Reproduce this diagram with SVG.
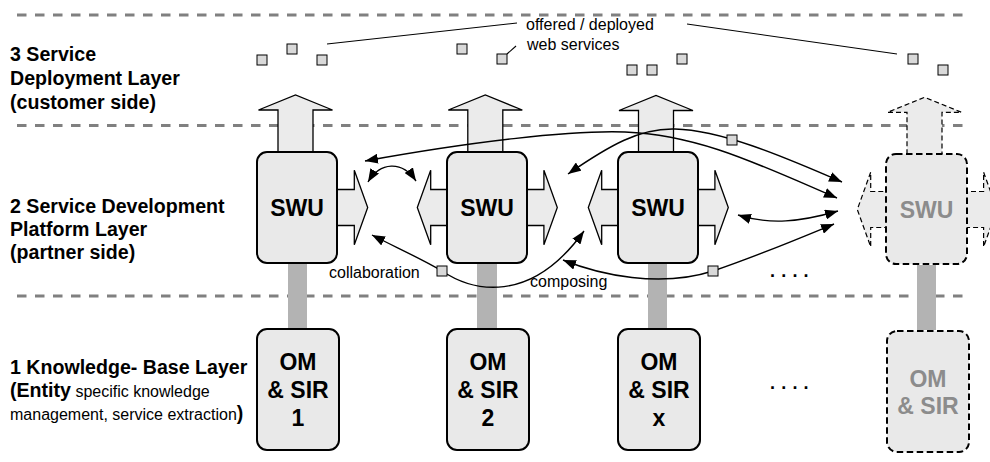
<svg xmlns="http://www.w3.org/2000/svg" width="990" height="462" viewBox="0 0 990 462">
<defs>
<style>
.layer{stroke:#808080;stroke-width:3;stroke-dasharray:9.5 8.5;fill:none}
.box{fill:#e9e9e9;stroke:#000;stroke-width:2}
.boxd{fill:#e9e9e9;stroke:#000;stroke-width:2;stroke-dasharray:6.5 3.5}
.arr{fill:#ebebeb;stroke:#000;stroke-width:1.3}
.arrd{fill:#ebebeb;stroke:#000;stroke-width:1.2;stroke-dasharray:5 3}
.bar{fill:#b3b3b3}
.ws{fill:#d9d9d9;stroke:#000;stroke-width:1}
.conn{fill:none;stroke:#000;stroke-width:1.4}
.lead{fill:none;stroke:#000;stroke-width:1.1}
text{font-family:"Liberation Sans",Arial,Helvetica,sans-serif;fill:#000}
.lbl{font-weight:bold;font-size:19.6px}
.sm{font-size:16px;font-weight:normal}
.big{font-weight:bold;font-size:23px;text-anchor:middle}
.gray{fill:#8c8c8c}
.dots{font-weight:bold;font-size:18px;letter-spacing:6.2px}
</style>
<marker id="ah" viewBox="0 0 13 10" refX="13" refY="5" markerWidth="13" markerHeight="10" markerUnits="userSpaceOnUse" orient="auto-start-reverse"><path d="M0,0 L13,5 L0,10 Z" fill="#000"/></marker>
<path id="upA" d="M-17.5,65 V15 H-37 L0,0 L37,15 H17.5 V65 Z"/>
<path id="rtA" d="M-50,-18 H-13.4 V-37.3 L0,0 L-13.4,37.3 V18 H-50 Z"/>
</defs>
<rect width="990" height="462" fill="#fff"/>

<g id="layers">
<line class="layer" x1="17" y1="15" x2="967" y2="15"/>
<line class="layer" x1="17" y1="125.5" x2="967" y2="125.5"/>
<line class="layer" x1="17" y1="296" x2="967" y2="296"/>
</g>

<g id="layer-labels">
<text class="lbl" x="10" y="61">3 Service</text>
<text class="lbl" x="10" y="85">Deployment Layer</text>
<text class="lbl" x="10" y="109">(customer side)</text>
<text class="lbl" x="10" y="213">2 Service Development</text>
<text class="lbl" x="10" y="236">Platform Layer</text>
<text class="lbl" x="10" y="259">(partner side)</text>
<text class="lbl" x="10" y="374">1 Knowledge- Base Layer</text>
<text class="lbl" x="10" y="397">(Entity<tspan class="sm"> specific knowledge</tspan></text>
<text class="lbl" x="10" y="420"><tspan class="sm">management, service extraction</tspan>)</text>
</g>

<g id="web-services">
<rect class="ws" x="257" y="55" width="10" height="10"/>
<rect class="ws" x="287" y="44" width="10" height="10"/>
<rect class="ws" x="317" y="55" width="10" height="10"/>
<rect class="ws" x="457" y="44" width="10" height="10"/>
<rect class="ws" x="497" y="54" width="10" height="10"/>
<rect class="ws" x="627" y="65" width="10" height="10"/>
<rect class="ws" x="647" y="65" width="10" height="10"/>
<rect class="ws" x="677" y="54" width="10" height="10"/>
<rect class="ws" x="908" y="54" width="10" height="10"/>
<rect class="ws" x="938" y="65" width="10" height="10"/>
<line class="lead" x1="327" y1="44" x2="517" y2="23"/>
<line class="lead" x1="507" y1="54" x2="516" y2="46"/>
<line class="lead" x1="687" y1="24" x2="897" y2="54"/>
<text class="sm" x="526" y="30">offered / deployed</text>
<text class="sm" x="527" y="50">web services</text>
</g>

<g id="swu1">
<use href="#upA" class="arr" transform="translate(295.5,95)"/>
<use href="#rtA" class="arr" transform="translate(367.7,207.5)"/>
<rect class="box" x="257" y="152" width="80" height="111" rx="10"/>
<text class="big" x="297" y="215.7">SWU</text>
</g>
<g id="swu2">
<use href="#upA" class="arr" transform="translate(485.3,95)"/>
<use href="#rtA" class="arr" transform="translate(557.3,207.5)"/>
<use href="#rtA" class="arr" transform="translate(417.3,207.5) scale(-1,1)"/>
<rect class="box" x="447" y="152" width="80" height="111" rx="10"/>
<text class="big" x="487" y="215.7">SWU</text>
</g>
<g id="swu3">
<use href="#upA" class="arr" transform="translate(656,95.5)"/>
<use href="#rtA" class="arr" transform="translate(728.3,207.5)"/>
<use href="#rtA" class="arr" transform="translate(588.3,207.5) scale(-1,1)"/>
<rect class="box" x="618" y="152" width="80" height="111" rx="10"/>
<text class="big" x="658" y="215.7">SWU</text>
</g>
<g id="swu4">
<use href="#upA" class="arrd" transform="translate(924.5,97.3)"/>
<use href="#rtA" class="arrd" transform="translate(997,209.5)"/>
<use href="#rtA" class="arrd" transform="translate(857.3,209.5) scale(-1,1)"/>
<rect class="boxd" x="886" y="154" width="81" height="110" rx="10"/>
<text class="big gray" x="926.5" y="218">SWU</text>
</g>

<g id="om1">
<rect class="box" x="257" y="329" width="82" height="121" rx="10"/>
<text class="big" x="298" y="370">OM</text>
<text class="big" x="298" y="398">&amp; SIR</text>
<text class="big" x="298" y="426">1</text>
</g>
<g id="om2">
<rect class="box" x="447" y="329" width="82" height="121" rx="10"/>
<text class="big" x="488" y="370">OM</text>
<text class="big" x="488" y="398">&amp; SIR</text>
<text class="big" x="488" y="426">2</text>
</g>
<g id="omx">
<rect class="box" x="618" y="329" width="82" height="121" rx="10"/>
<text class="big" x="659" y="370">OM</text>
<text class="big" x="659" y="398">&amp; SIR</text>
<text class="big" x="659" y="426">x</text>
</g>
<g id="om4">
<rect class="boxd" x="887" y="331" width="82" height="121" rx="10"/>
<text class="big gray" x="928" y="387">OM</text>
<text class="big gray" x="928" y="414">&amp; SIR</text>
</g>

<g id="ellipsis">
<text class="dots" x="770" y="276.5">....</text>
<text class="dots" x="770" y="388.5">....</text>
</g>

<g id="connectors">
<rect class="bar" x="288" y="264" width="19" height="64"/>
<rect class="bar" x="477" y="264" width="20" height="64"/>
<rect class="bar" x="648" y="264" width="19" height="64"/>
<rect class="bar" x="917" y="265" width="19" height="65"/>
<path class="conn" marker-start="url(#ah)" marker-end="url(#ah)" d="M365,161 C470,142 570,130 625,132 C700,135 760,165 837,198"/>
<path class="conn" marker-start="url(#ah)" marker-end="url(#ah)" d="M568,174 C610,145 640,128 675,129 C720,130 780,155 842,182"/>
<path class="conn" marker-start="url(#ah)" marker-end="url(#ah)" d="M368,182 C380,162 402,160 416,181"/>
<path class="conn" marker-start="url(#ah)" marker-end="url(#ah)" d="M738,215 C770,225 800,222 838,211"/>
<path class="conn" marker-start="url(#ah)" marker-end="url(#ah)" d="M372,235 C395,247 420,258 442,271 C472,291 530,306 584,231"/>
<path class="conn" marker-start="url(#ah)" marker-end="url(#ah)" d="M563,260 C600,275 660,288 713,271 C760,255 800,238 834,224"/>
<rect class="ws" x="727" y="135" width="10" height="10"/>
<rect class="ws" x="437" y="266" width="10" height="10"/>
<rect class="ws" x="708" y="266" width="10" height="10"/>
<text class="sm" x="329" y="278">collaboration</text>
<text class="sm" x="530" y="287">composing</text>
</g>
</svg>
